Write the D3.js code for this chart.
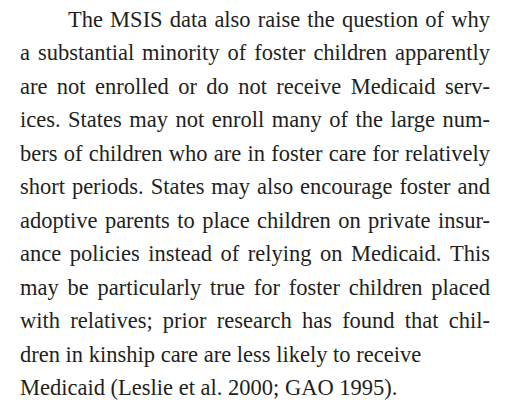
<!DOCTYPE html>
<html>
<head>
<meta charset="utf-8">
<script src="https://cdn.jsdelivr.net/npm/d3@7"></script>
<style>
  html, body { margin: 0; padding: 0; background: #fff; }
  svg { display: block; }
</style>
</head>
<body>
<svg id="page" width="510" height="407"></svg>
<script>
// Zeilen des Absatzes (Blocksatz, letzte Zeile linksbündig)
const lines = [
  "The MSIS data also raise the question of why",
  "a substantial minority of foster children apparently",
  "are not enrolled or do not receive Medicaid serv-",
  "ices. States may not enroll many of the large num-",
  "bers of children who are in foster care for relatively",
  "short periods. States may also encourage foster and",
  "adoptive parents to place children on private insur-",
  "ance policies instead of relying on Medicaid. This",
  "may be particularly true for foster children placed",
  "with relatives; prior research has found that chil-",
  "dren in kinship care are less likely to receive",
  "Medicaid (Leslie et al. 2000; GAO 1995)."
];
// Zeilen, die nicht ausgetrieben werden
const raggedLines = [10, 11];

const left = 20, right = 490, indent = 48;
const fontSize = 22.5;

const svg = d3.select("#page");

// Zeilen-Skala: Index -> Grundlinie
const y = d3.scaleLinear()
  .domain([0, lines.length - 1])
  .range([27, 395]);

const g = svg.append("g")
  .attr("font-family", "'Liberation Serif', 'DejaVu Serif', serif")
  .attr("font-size", fontSize)
  .attr("fill", "#231f20");

lines.forEach((line, i) => {
  const words = line.split(" ");
  const x0 = i === 0 ? left + indent : left;
  const row = g.append("g").attr("class", "line");

  const nodes = row.selectAll("text")
    .data(words)
    .enter()
    .append("text")
    .attr("y", y(i))
    .text((d) => d);

  const widths = nodes.nodes().map((n) => n.getComputedTextLength());
  const total = d3.sum(widths);
  const space = fontSize * 0.25;
  const gap = raggedLines.includes(i) || words.length < 2
    ? space
    : (right - x0 - total) / (words.length - 1);

  let x = x0;
  nodes.attr("x", (d, k) => {
    const pos = x;
    x += widths[k] + gap;
    return pos;
  });
});
</script>
</body>
</html>
